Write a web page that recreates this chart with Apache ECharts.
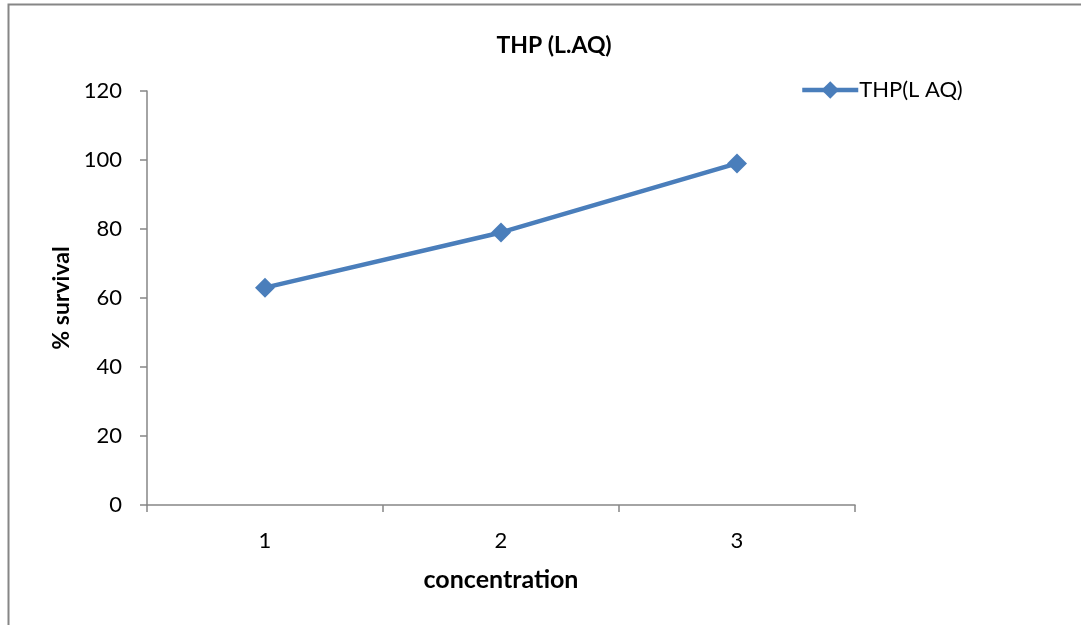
<!DOCTYPE html>
<html>
<head>
<meta charset="utf-8">
<script src="https://cdn.jsdelivr.net/npm/echarts@6/dist/echarts.min.js"></script>
<style>
  html, body { margin: 0; padding: 0; background: #fff; }
  #chart { width: 1081px; height: 625px; }
</style>
</head>
<body>
<div id="chart"></div>
<script>
// data
const categories = ["1", "2", "3"];
const survival = [63, 79, 99];
const seriesName = "THP(L AQ)";

const FONT = "Lato, 'Open Sans', sans-serif";
const AXIS_GREY = "#868686";
const LINE_BLUE = "#4a7ebb";

const chart = echarts.init(document.getElementById("chart"));
chart.setOption({
  animation: false,
  backgroundColor: "#fff",
  textStyle: { fontFamily: FONT, color: "#000" },
  title: {
    text: "THP (L.AQ)",
    left: 549,
    textAlign: "center",
    top: 29,
    textStyle: { fontSize: 23, fontWeight: "bold", color: "#000", fontFamily: FONT },
  },
  legend: {
    left: 795,
    top: 74,
    itemWidth: 56,
    itemHeight: 22,
    itemGap: 4,
    lineStyle: { width: 4.5, color: LINE_BLUE },
    textStyle: { fontSize: 22, color: "#000", fontFamily: FONT, padding: [0, 0, 0, -4] },
    data: [seriesName],
  },
  graphic: [
    {
      type: "rect",
      shape: { x: 8.5, y: 4.5, width: 1200, height: 800 },
      style: { fill: "none", stroke: AXIS_GREY, lineWidth: 2 },
      silent: true,
    },
  ],
  grid: { left: 147, right: 226, top: 91, bottom: 120 },
  xAxis: {
    type: "category",
    data: categories,
    boundaryGap: true,
    name: "concentration",
    nameLocation: "middle",
    nameGap: 62,
    nameTextStyle: { fontSize: 25, fontWeight: "bold", color: "#000", fontFamily: FONT },
    axisLine: { lineStyle: { color: AXIS_GREY, width: 1.5 } },
    axisTick: { show: true, alignWithLabel: false, length: 7, lineStyle: { color: AXIS_GREY, width: 1.5 } },
    axisLabel: { fontSize: 22, color: "#000", margin: 25, fontFamily: FONT },
    splitLine: { show: false },
  },
  yAxis: {
    type: "value",
    min: 0,
    max: 120,
    interval: 20,
    name: "% survival",
    nameLocation: "middle",
    nameGap: 73,
    nameRotate: 90,
    nameTextStyle: { fontSize: 23, fontWeight: "bold", color: "#000", fontFamily: FONT },
    axisLine: { show: true, lineStyle: { color: AXIS_GREY, width: 1.5 } },
    axisTick: { show: true, length: 7, lineStyle: { color: AXIS_GREY, width: 1.5 } },
    axisLabel: { fontSize: 22, color: "#000", margin: 25, fontFamily: FONT },
    splitLine: { show: false },
  },
  series: [
    {
      name: seriesName,
      type: "line",
      data: survival,
      symbol: "diamond",
      symbolSize: 20,
      lineStyle: { color: LINE_BLUE, width: 4.5 },
      itemStyle: { color: LINE_BLUE },
    },
  ],
});
</script>
</body>
</html>
